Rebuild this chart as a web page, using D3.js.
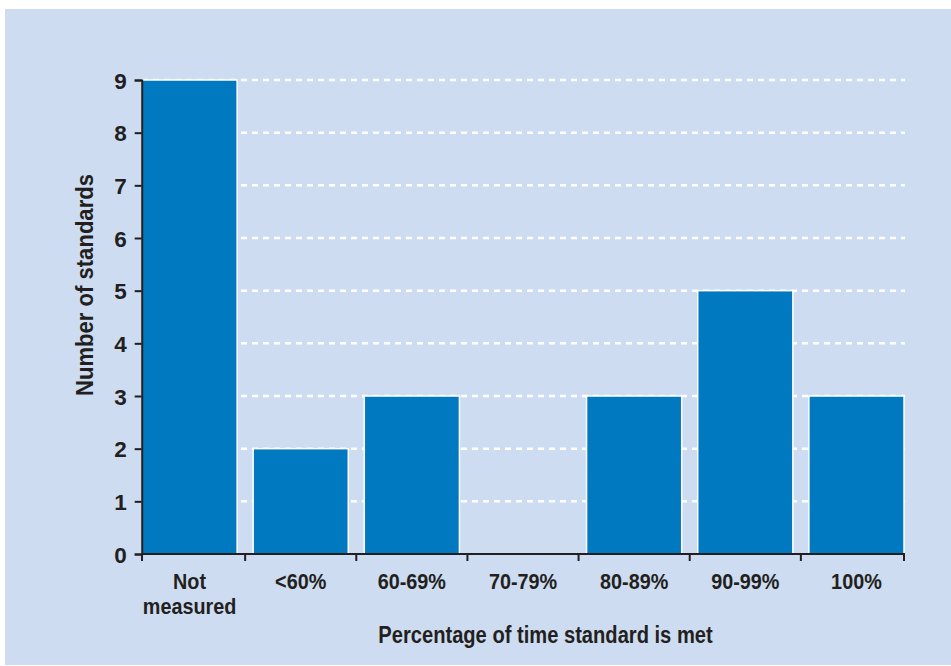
<!DOCTYPE html>
<html>
<head>
<meta charset="utf-8">
<script src="https://cdn.jsdelivr.net/npm/d3@7"></script>
<style>
  html, body { margin: 0; padding: 0; background: #ffffff; }
  svg { display: block; }
  text { font-family: "Liberation Sans", Arial, Helvetica, sans-serif; font-weight: bold; fill: #231f20; }
</style>
</head>
<body>
<svg id="chart" width="951" height="666"></svg>
<script>
// Categories along the x axis (each may wrap onto two lines)
const categories = ["Not measured", "<60%", "60-69%", "70-79%", "80-89%", "90-99%", "100%"];
const categoryLines = [["Not", "measured"], ["<60%"], ["60-69%"], ["70-79%"], ["80-89%"], ["90-99%"], ["100%"]];
// Number of standards in each band
const counts = [9, 2, 3, 0, 3, 5, 3];
// Y axis ticks
const yTicks = [0, 1, 2, 3, 4, 5, 6, 7, 8, 9];
const yTitle = "Number of standards";
const xTitle = "Percentage of time standard is met";

const ink = "#231f20";
const barFill = "#0079c1";
const panelFill = "#cddcf0";

const svg = d3.select("#chart");

// Light blue panel
svg.append("rect")
  .attr("x", 5).attr("y", 9)
  .attr("width", 946).attr("height", 656)
  .attr("fill", panelFill);

const x = d3.scaleBand()
  .domain(categories)
  .range([142, 904])
  .paddingInner(0.144)
  .paddingOuter(0);

const y = d3.scaleLinear()
  .domain([0, 9])
  .range([554, 80]);

// Dashed white gridlines
svg.append("g")
  .selectAll("line")
  .data(yTicks.filter(d => d > 0))
  .join("line")
  .attr("x1", 142).attr("x2", 905)
  .attr("y1", d => y(d)).attr("y2", d => y(d))
  .attr("stroke", "#ffffff")
  .attr("stroke-width", 2.5)
  .attr("stroke-dasharray", "6,5");

// Bars
svg.append("g")
  .selectAll("rect")
  .data(counts.map((v, i) => ({ cat: categories[i], v })))
  .join("rect")
  .attr("x", d => x(d.cat))
  .attr("y", d => y(d.v))
  .attr("width", x.bandwidth())
  .attr("height", d => y(0) - y(d.v))
  .attr("fill", barFill)
  .attr("stroke", d => d.v > 0 ? "#ffffff" : "none")
  .attr("stroke-width", 1.5);

// Y axis
const yAxis = svg.append("g")
  .attr("transform", "translate(141.7,0)")
  .call(d3.axisLeft(y).tickValues(yTicks).tickFormat(d3.format("d")).tickSize(7).tickPadding(8));
yAxis.select(".domain").attr("stroke", ink).attr("stroke-width", 2);
yAxis.selectAll(".tick line").attr("stroke", ink).attr("stroke-width", 2);
yAxis.selectAll(".tick text")
  .attr("fill", ink)
  .style("font-size", "22.5px")
  .style("font-family", "'Liberation Sans', Arial, sans-serif")
  .style("font-weight", "bold")
  .attr("dy", "0.36em");

// X axis baseline and boundary ticks
const step = x.step();
const boundaries = [x.range()[0]].concat(
  categories.slice(0, -1).map(c => x(c) + x.bandwidth() + (step - x.bandwidth()) / 2),
  [x(categories[categories.length - 1]) + x.bandwidth()]
);
const xAxis = svg.append("g");
xAxis.append("line")
  .attr("x1", 141.7).attr("x2", boundaries[boundaries.length - 1] + 1)
  .attr("y1", y(0)).attr("y2", y(0))
  .attr("stroke", ink).attr("stroke-width", 2);
xAxis.selectAll("line.tick")
  .data(boundaries)
  .join("line")
  .attr("class", "tick")
  .attr("x1", d => d).attr("x2", d => d)
  .attr("y1", y(0)).attr("y2", y(0) + 7)
  .attr("stroke", ink).attr("stroke-width", 2);

// Category labels (condensed bold); multi-line labels use tspans in one text
svg.append("g")
  .selectAll("text")
  .data(categories)
  .join("text")
  .attr("transform", d => `translate(${x(d) + x.bandwidth() / 2},589) scale(0.88,1)`)
  .attr("text-anchor", "middle")
  .style("font-size", "22.5px")
  .each(function (d, i) {
    d3.select(this).selectAll("tspan")
      .data(categoryLines[i])
      .join("tspan")
      .attr("x", 0)
      .attr("y", (t, j) => j * 25.3)
      .text(t => t);
  });

// Axis titles
svg.append("text")
  .attr("transform", "translate(545.5,643) scale(0.875,1)")
  .attr("text-anchor", "middle")
  .style("font-size", "23px")
  .text(xTitle);

svg.append("text")
  .attr("transform", "translate(93,285) rotate(-90) scale(0.92,1)")
  .attr("text-anchor", "middle")
  .style("font-size", "24px")
  .text(yTitle);
</script>
</body>
</html>
